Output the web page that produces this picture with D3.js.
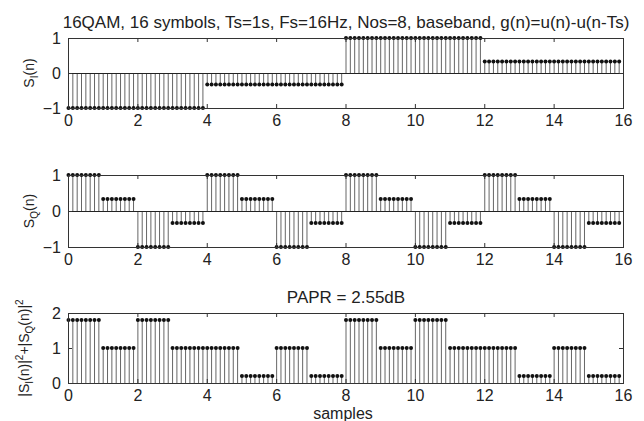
<!DOCTYPE html>
<html>
<head>
<meta charset="utf-8">
<script src="https://cdn.jsdelivr.net/npm/d3@7"></script>
<style>
  body { margin: 0; background: #fff; }
  text { font-family: "Liberation Sans", Arial, sans-serif; fill: #222; }
</style>
</head>
<body>
<svg id="chart"></svg>
<script>
const width = 644;
const height = 421;

// Symbol values (one per symbol, 16 symbols).
const symbolsI = [-1, -1, -1, -1, -0.33, -0.33, -0.33, -0.33, 1, 1, 1, 1, 0.33, 0.33, 0.33, 0.33];
const symbolsQ = [1, 0.33, -1, -0.33, 1, 0.33, -1, -0.33, 1, 0.33, -1, -0.33, 1, 0.33, -1, -0.33];
const symbolsPower = [1.8, 1, 1.8, 1, 1, 0.2, 1, 0.2, 1.8, 1, 1.8, 1, 1, 0.2, 1, 0.2];
const nos = 8; // samples per symbol
const xTicks = [0, 2, 4, 6, 8, 10, 12, 14, 16];
const yTicksIQ = [-1, 0, 1];
const yTicksPow = [0, 1, 2];

// rectangular pulse: every symbol held for nos samples
const toSamples = vals => vals.flatMap((v, k) => d3.range(nos).map(j => ({ x: k + j / nos, y: v })));

const svg = d3.select("#chart")
    .attr("width", width)
    .attr("height", height);

const x = d3.scaleLinear().domain([0, 16]).range([68, 623]);

const panels = [
  { data: toSamples(symbolsI), domain: [-1, 1], ticks: yTicksIQ, top: 38, bottom: 108 },
  { data: toSamples(symbolsQ), domain: [-1, 1], ticks: yTicksIQ, top: 175, bottom: 247 },
  { data: toSamples(symbolsPower), domain: [0, 2], ticks: yTicksPow, top: 313, bottom: 383 }
];

panels.forEach(p => {
  const y = d3.scaleLinear().domain(p.domain).range([p.bottom, p.top]);
  p.y = y;
  const g = svg.append("g");

  // stems
  g.append("g")
      .attr("stroke", "#666")
      .attr("stroke-width", 1)
    .selectAll("line")
    .data(p.data)
    .join("line")
      .attr("x1", d => x(d.x) + 0.5)
      .attr("x2", d => x(d.x) + 0.5)
      .attr("y1", y(0))
      .attr("y2", d => y(d.y));

  // baseline
  g.append("line")
      .attr("x1", x(0)).attr("x2", x(16))
      .attr("y1", y(0) + 0.5).attr("y2", y(0) + 0.5)
      .attr("stroke", "#222");

  // markers
  g.append("g")
      .attr("fill", "#111")
    .selectAll("circle")
    .data(p.data)
    .join("circle")
      .attr("cx", d => x(d.x) + 0.5)
      .attr("cy", d => y(d.y))
      .attr("r", 2);

  // axes: ticks inside on all four sides, box
  const bottomAxis = d3.axisBottom(x).tickValues(xTicks).tickSize(-4).tickPadding(7).tickFormat(d3.format("d"));
  const topAxis = d3.axisTop(x).tickValues(xTicks).tickSize(-4).tickFormat("");
  const leftAxis = d3.axisLeft(y).tickValues(p.ticks).tickSize(-4).tickPadding(7).tickFormat(d3.format("d"));
  const rightAxis = d3.axisRight(y).tickValues(p.ticks).tickSize(-4).tickFormat("");

  const styleAxis = sel => {
    sel.select(".domain").remove();
    sel.selectAll("line").attr("stroke", "#333");
    sel.selectAll("text").attr("font-size", 16).attr("fill", "#222")
        .attr("font-family", "'Liberation Sans', Arial, sans-serif");
  };

  g.append("g").attr("transform", `translate(0,${p.bottom})`).call(bottomAxis).call(styleAxis);
  g.append("g").attr("transform", `translate(0,${p.top})`).call(topAxis).call(styleAxis);
  g.append("g").attr("transform", `translate(${x(0)},0)`).call(leftAxis).call(styleAxis);
  g.append("g").attr("transform", `translate(${x(16)},0)`).call(rightAxis).call(styleAxis);

  g.append("rect")
      .attr("x", x(0) + 0.5).attr("y", p.top + 0.5)
      .attr("width", x(16) - x(0)).attr("height", p.bottom - p.top)
      .attr("fill", "none")
      .attr("stroke", "#333");
});

// titles
svg.append("text")
    .attr("x", 346).attr("y", 27.5)
    .attr("text-anchor", "middle")
    .attr("font-size", 17)
    .text("16QAM, 16 symbols, Ts=1s, Fs=16Hz, Nos=8, baseband, g(n)=u(n)-u(n-Ts)");

svg.append("text")
    .attr("x", 346).attr("y", 303)
    .attr("text-anchor", "middle")
    .attr("font-size", 17)
    .text("PAPR = 2.55dB");

svg.append("text")
    .attr("x", 343).attr("y", 419)
    .attr("text-anchor", "middle")
    .attr("font-size", 16)
    .text("samples");

// y labels with sub/superscripts
function yLabel(cx, cy, parts) {
  const t = svg.append("text")
      .attr("transform", `translate(${cx},${cy}) rotate(-90)`)
      .attr("text-anchor", "middle")
      .attr("font-size", 14);
  parts.forEach(([s, kind]) => {
    const ts = t.append("tspan").text(s);
    if (kind === "sub") ts.attr("font-size", 10).attr("baseline-shift", "-4");
    if (kind === "sup") ts.attr("font-size", 10).attr("baseline-shift", "6");
  });
}

yLabel(34, panels[0].y(0), [["S"], ["I", "sub"], ["(n)"]]);
yLabel(34, (panels[1].top + panels[1].bottom) / 2, [["S"], ["Q", "sub"], ["(n)"]]);
yLabel(29, (panels[2].top + panels[2].bottom) / 2,
  [["|S"], ["I", "sub"], ["(n)|"], ["2", "sup"], ["+|S"], ["Q", "sub"], ["(n)|"], ["2", "sup"]]);
</script>
</body>
</html>
